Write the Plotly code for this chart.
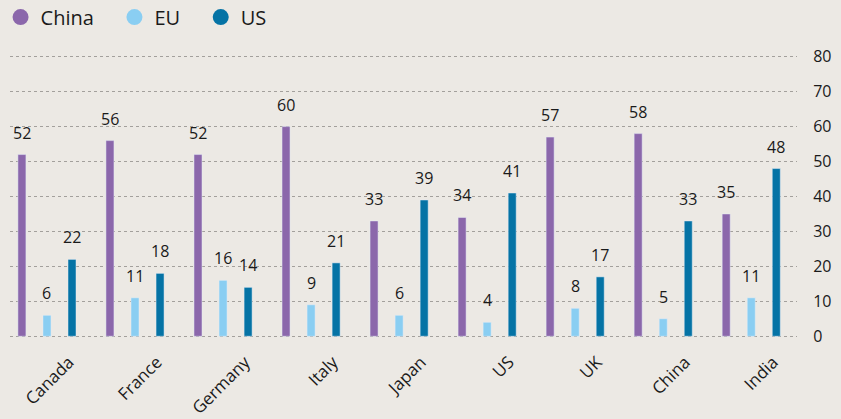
import plotly.graph_objects as go

categories = ["Canada", "France", "Germany", "Italy", "Japan", "US", "UK", "China", "India"]
china = [52, 56, 52, 60, 33, 34, 57, 58, 35]
eu = [6, 11, 16, 9, 6, 4, 8, 5, 11]
us = [22, 18, 14, 21, 39, 41, 17, 33, 48]
series_names = ["China", "EU", "US"]
legend_pad = ["\u00a0\u00a0\u00a0", "\u00a0\u00a0\u00a0", ""]
colors = ["#8B67AB", "#8ACEF2", "#0573A5"]
tick_vals = [0, 10, 20, 30, 40, 50, 60, 70, 80]

fig = go.Figure()
x = list(range(len(categories)))
w = 0.091
offsets = [-0.33, -0.0455, 0.239]
for name, pad, vals, col, off in zip(series_names, legend_pad, [china, eu, us], colors, offsets):
    fig.add_trace(go.Bar(
        x=x, y=vals, name=name, marker_color=col, width=w, offset=off,
        showlegend=False, hoverinfo="x+y",
    ))
    fig.add_trace(go.Scatter(
        x=[None], y=[None], mode="markers", name=name + pad,
        marker=dict(symbol="circle", size=20, color=col),
    ))
    for xi, v in zip(x, vals):
        fig.add_annotation(
            x=xi + off + w / 2, y=v, text=str(v), showarrow=False,
            xanchor="center", yanchor="bottom", yshift=9,
            font=dict(size=16, color="#1a1a1a"),
        )

fig.update_layout(
    width=841, height=419,
    paper_bgcolor="#ECE9E4", plot_bgcolor="#ECE9E4",
    font=dict(family="Open Sans", color="#1a1a1a"),
    margin=dict(l=10, r=44, t=55, b=81, autoexpand=False),
    legend=dict(orientation="h", x=-0.012, y=1.134, xanchor="left", yanchor="middle",
                font=dict(size=20), itemwidth=30, bgcolor="rgba(0,0,0,0)", traceorder="normal"),
    xaxis=dict(tickmode="array", tickvals=x, ticktext=categories, tickangle=-45,
               range=[-0.42, 8.52], showgrid=False, zeroline=False, showline=False,
               tickfont=dict(size=17), ticks="", ticklabelstandoff=10,
               ticklabelshift=22, ticklabeloverflow="allow", automargin=False),
    yaxis=dict(side="right", range=[-0.5, 80.5], tickvals=tick_vals, showgrid=True,
               gridcolor="#a3a09c", griddash="3px,3px", gridwidth=1, zeroline=False,
               tickfont=dict(size=16), ticks="outside", ticklen=12,
               tickcolor="rgba(0,0,0,0)", automargin=False),
)
fig.write_html("out.html", config={"displayModeBar": False})
with open("out.html", "r", encoding="utf-8") as f:
    html = f.read()
html = html.replace("<head>", "<head><style>html,body{margin:0;padding:0;overflow:hidden;}</style>", 1)
with open("out.html", "w", encoding="utf-8") as f:
    f.write(html)
